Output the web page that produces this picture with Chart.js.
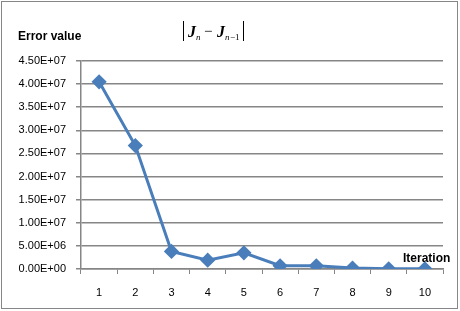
<!DOCTYPE html>
<html>
<head>
<meta charset="utf-8">
<script src="https://cdn.jsdelivr.net/npm/chart.js@4.4.1/dist/chart.umd.min.js"></script>
<style>
  html, body { margin: 0; padding: 0; background: #fff; }
  #wrap { width: 460px; height: 311px; }
</style>
</head>
<body>
<div id="wrap"><canvas id="errChart" width="460" height="311"></canvas></div>
<script>
// iterations and |Jn - Jn-1|
var iterations = ['1', '2', '3', '4', '5', '6', '7', '8', '9', '10'];
var errorValues = [4.05e7, 2.67e7, 3.8e6, 1.9e6, 3.5e6, 7.0e5, 7.0e5, 2.0e5, 5.0e4, 3.0e4];
var yMax = 4.5e7;
var yStep = 5e6;

// Excel style scientific label, e.g. 4.50E+07
function sciLabel(v) {
    if (v === 0) return '0.00E+00';
    var exp = Math.floor(Math.log10(Math.abs(v)));
    var mant = v / Math.pow(10, exp);
    if (Math.abs(mant) >= 9.995) { mant = mant / 10; exp++; }
    var e = (exp < 0 ? '-' : '+') + String(Math.abs(exp)).padStart(2, '0');
    return mant.toFixed(2) + 'E' + e;
}

// frame and free text (axis captions and formula)
var decorations = {
    id: 'decorations',
    beforeDraw: function(chart) {
        var c = chart.ctx;
        c.save();
        c.strokeStyle = '#868686';
        c.lineWidth = 1;
        c.strokeRect(1.5, 1.5, 456, 307);
        c.restore();
    },
    afterDraw: function(chart) {
        var c = chart.ctx;
        c.save();
        c.fillStyle = '#000';
        c.textBaseline = 'alphabetic';
        c.font = 'bold 12px "Liberation Sans", Arial, sans-serif';
        c.textAlign = 'left';
        c.fillText('Error value', 18, 40);
        c.fillText('Iteration', 403, 262);

        // |J_n - J_{n-1}|
        var x = 183, base = 37;
        c.strokeStyle = '#000';
        c.lineWidth = 1;
        c.beginPath();
        c.moveTo(x + 0.5, 21); c.lineTo(x + 0.5, 41);
        c.stroke();
        c.font = 'italic bold 16px "Liberation Serif", "Times New Roman", serif';
        c.fillText('J', x + 5, base);
        c.font = 'italic 9px "Liberation Serif", "Times New Roman", serif';
        c.fillText('n', x + 13, base + 3);
        c.font = '15px "Liberation Serif", "Times New Roman", serif';
        c.fillText('\u2212', x + 21, base - 1);
        c.font = 'italic bold 16px "Liberation Serif", "Times New Roman", serif';
        c.fillText('J', x + 34, base);
        c.font = 'italic 9px "Liberation Serif", "Times New Roman", serif';
        c.fillText('n', x + 42, base + 3);
        c.font = '9px "Liberation Serif", "Times New Roman", serif';
        c.fillText('\u22121', x + 47, base + 3);
        c.beginPath();
        c.moveTo(x + 60.5, 21); c.lineTo(x + 60.5, 41);
        c.stroke();
        c.restore();
    }
};

const ctx = document.getElementById('errChart');

new Chart(ctx, {
    type: 'line',
    data: {
        labels: iterations,
        datasets: [{
            label: 'Error value',
            data: errorValues,
            borderColor: '#4A7EBB',
            backgroundColor: '#4A7EBB',
            borderWidth: 3,
            pointStyle: 'rectRot',
            pointRadius: 5.5,
            pointHoverRadius: 5.5,
            tension: 0
        }]
    },
    options: {
        responsive: false,
        animation: false,
        layout: { padding: { left: 0, top: 61, right: 17, bottom: 0 } },
        plugins: {
            legend: { display: false },
            title: { display: false },
            tooltip: { enabled: false }
        },
        scales: {
            x: {
                offset: true,
                grid: {
                    offset: true,
                    drawOnChartArea: false,
                    drawTicks: true,
                    tickLength: 5,
                    color: '#868686'
                },
                border: { color: '#868686', width: 1.5 },
                ticks: {
                    padding: 12,
                    color: '#000',
                    font: { family: '"Liberation Sans", Arial, sans-serif', size: 11 }
                },
                afterFit: function(scale) { scale.height = 311 - 269; }
            },
            y: {
                min: 0,
                max: yMax,
                ticks: {
                    stepSize: yStep,
                    padding: 10,
                    color: '#000',
                    font: { family: '"Liberation Sans", Arial, sans-serif', size: 11 },
                    callback: function(v) { return sciLabel(v); }
                },
                grid: {
                    color: '#868686',
                    lineWidth: 1.5,
                    tickLength: 5
                },
                border: { color: '#868686', width: 1.5 },
                afterFit: function(scale) { scale.width = 81; }
            }
        }
    },
    plugins: [decorations]
});
</script>
</body>
</html>
